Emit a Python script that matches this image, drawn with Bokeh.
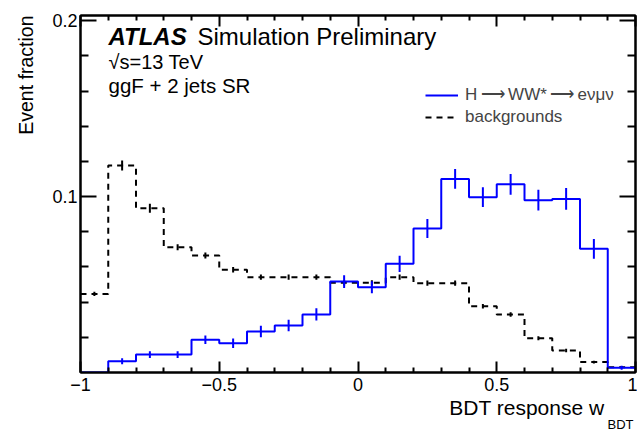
import numpy as np
from bokeh.plotting import figure
from bokeh.models import (Range1d, FixedTicker, LinearAxis, Label, Legend, LegendItem,
                          CustomJSTickFormatter, Title)
from bokeh.embed import file_html
from bokeh.resources import INLINE

# ---------------- data ----------------
x_min, x_max, n_bins = -1.0, 1.0, 20

signal = [0.0, 0.0064, 0.0102, 0.0102, 0.0186, 0.0167, 0.0233, 0.0267, 0.0330, 0.0517,
          0.0485, 0.0618, 0.0819, 0.1101, 0.0997, 0.1070, 0.0980, 0.0987, 0.0703, 0.0027]
signal_err = [0.0, 0.0017, 0.0019, 0.0019, 0.0024, 0.0027, 0.0033, 0.0033, 0.0035, 0.0036,
              0.0034, 0.0046, 0.0054, 0.0056, 0.0056, 0.0059, 0.0059, 0.0062, 0.0056, 0.0011]
background = [0.0447, 0.1177, 0.0934, 0.0712, 0.0665, 0.0584, 0.0542, 0.0542, 0.0542, 0.0510,
              0.0510, 0.0542, 0.0508, 0.0508, 0.0377, 0.0330, 0.0195, 0.0125, 0.0059, 0.0030]
background_err = [0.0012, 0.0028, 0.0026, 0.0017, 0.0017, 0.0016, 0.0015, 0.0015, 0.0015, 0.0015,
                  0.0015, 0.0015, 0.0015, 0.0015, 0.0013, 0.0013, 0.0011, 0.0010, 0.0008, 0.0006]

x_major_ticks = [-1.0, -0.5, 0.0, 0.5, 1.0]
x_minor_ticks = [-0.9, -0.8, -0.7, -0.6, -0.4, -0.3, -0.2, -0.1,
                 0.1, 0.2, 0.3, 0.4, 0.6, 0.7, 0.8, 0.9]
y_major_ticks = [0.1, 0.2]
y_minor_ticks = [0.02, 0.04, 0.06, 0.08, 0.12, 0.14, 0.16, 0.18]

sig_label = "H\u2009\u27f6\u2009WW*\u2009\u27f6\u2009e\u03bd\u03bc\u03bd"
bkg_label = "backgrounds"
FONT = "Liberation Sans"

# ---------------- derived ----------------
edges = np.linspace(x_min, x_max, n_bins + 1)
centers = 0.5 * (edges[:-1] + edges[1:])
sig = np.array(signal); sig_e = np.array(signal_err)
bkg = np.array(background); bkg_e = np.array(background_err)

p = figure(width=637, height=429, x_range=Range1d(-1, 1), y_range=Range1d(0, 0.203),
           output_backend="svg", toolbar_location=None, title=None,
           min_border_left=80, min_border_right=2, min_border_top=15, min_border_bottom=57)
p.background_fill_color = "white"
p.border_fill_color = "white"
p.xgrid.visible = False
p.ygrid.visible = False
p.outline_line_color = "black"
p.outline_line_width = 2

# histograms
bkg_r = p.step(x=edges, y=np.append(bkg, bkg[-1]), mode="after", line_color="black",
               line_width=2, line_dash="6 5")
p.segment(x0=centers, y0=bkg - bkg_e, x1=centers, y1=bkg + bkg_e, line_color="black", line_width=2)
sig_r = p.step(x=edges, y=np.append(sig, sig[-1]), mode="after", line_color="#0000ff", line_width=2)
p.segment(x0=centers, y0=sig - sig_e, x1=centers, y1=sig + sig_e, line_color="#0000ff", line_width=2)

# axes
xt = FixedTicker(ticks=x_major_ticks, minor_ticks=x_minor_ticks)
yt = FixedTicker(ticks=y_major_ticks, minor_ticks=y_minor_ticks)
xfmt = CustomJSTickFormatter(code="return tick < 0 ? '\u2212' + Math.abs(tick) : String(tick);")
yfmt = CustomJSTickFormatter(code="return tick.toFixed(1);")
blankfmt = CustomJSTickFormatter(code="return '';")

def style_axis(ax, ticker, tin, labels=True, fmt=None):
    ax.ticker = ticker
    ax.axis_line_width = 2
    ax.axis_line_color = "black"
    ax.major_tick_in = tin
    ax.major_tick_out = 0
    ax.minor_tick_in = tin // 2
    ax.minor_tick_out = 0
    ax.major_tick_line_width = 2
    ax.minor_tick_line_width = 2
    ax.major_tick_line_color = "black"
    ax.minor_tick_line_color = "black"
    if labels:
        ax.formatter = fmt
        ax.major_label_text_font = FONT
        ax.major_label_text_font_size = "18px"
        ax.major_label_text_color = "black"
    else:
        ax.formatter = blankfmt
        ax.major_label_text_font_size = "0px"
        ax.major_label_standoff = 0

style_axis(p.xaxis[0], xt, 11, True, xfmt)
p.xaxis[0].major_label_standoff = 5
style_axis(p.yaxis[0], yt, 16, True, yfmt)
p.yaxis[0].major_label_standoff = 3

top_ax = LinearAxis()
style_axis(top_ax, xt, 11, False)
p.add_layout(top_ax, "above")
right_ax = LinearAxis()
style_axis(right_ax, yt, 16, False)
p.add_layout(right_ax, "right")

# axis titles (as side titles so they are not clipped by the frame)
y_title = Title(text="Event fraction", align="right", vertical_align="middle", offset=0,
                standoff=23, text_font=FONT, text_font_size="19.5px", text_font_style="normal",
                text_color="black")
p.add_layout(y_title, "left")
x_title = Title(text="BDT response w", align="right", vertical_align="top", offset=31,
                standoff=4, text_font=FONT, text_font_size="21px", text_font_style="normal",
                text_color="black")
p.add_layout(x_title, "below")
x_sub = Title(text="BDT", align="right", vertical_align="top", offset=2,
              text_font=FONT, text_font_size="13px", text_font_style="normal", text_color="black")
try:
    x_sub.standoff = -12
except Exception:
    x_sub.standoff = 0
p.add_layout(x_sub, "below")

# pixel helpers -> data coords (frame: x 80..635, y 15..372)
def dx(px):
    return -1 + (px - 80) / 277.5

def dy(py):
    return (372 - py) / 1760.0

# ATLAS labels
p.add_layout(Label(x=dx(108), y=dy(36), text="ATLAS", text_font=FONT, text_font_size="24px",
                   text_font_style="bold italic", text_baseline="alphabetic", text_color="black"))
p.add_layout(Label(x=dx(197), y=dy(36), text="Simulation Preliminary", text_font=FONT,
                   text_font_size="24px", text_baseline="alphabetic", text_color="black"))
p.add_layout(Label(x=dx(108), y=dy(61), text="\u221as=13 TeV", text_font=FONT,
                   text_font_size="20px", text_baseline="alphabetic", text_color="black"))
p.add_layout(Label(x=dx(108), y=dy(85), text="ggF + 2 jets SR", text_font=FONT,
                   text_font_size="20.5px", text_baseline="alphabetic", text_color="black"))

# legend
legend = Legend(items=[LegendItem(label=sig_label, renderers=[sig_r]),
                       LegendItem(label=bkg_label, renderers=[bkg_r])],
                location=(345, 245), padding=0, margin=0, spacing=2,
                glyph_width=33, glyph_height=20, label_height=20, label_standoff=7,
                label_text_font=FONT, label_text_font_size="17px",
                border_line_color=None, background_fill_alpha=0)
p.add_layout(legend)

open("out.html", "w").write(file_html(p, INLINE))
